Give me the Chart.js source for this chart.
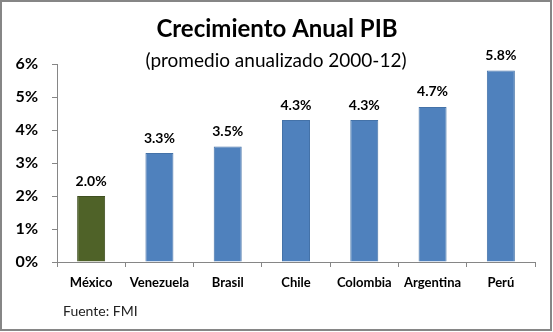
<!DOCTYPE html>
<html lang="es">
<head>
  <meta charset="UTF-8">
  <title>Crecimiento Anual PIB</title>
  <script src="https://cdn.jsdelivr.net/npm/chart.js"></script>
  <style>
    body { margin: 0; background: #fff; }
    #wrap { width: 553px; height: 332px; }
  </style>
</head>
<body>
  <div id="wrap"><canvas id="chartPib"></canvas></div>

  <script>
    const countries = ['México', 'Venezuela', 'Brasil', 'Chile', 'Colombia', 'Argentina', 'Perú'];
    const growth = [2.0, 3.3, 3.5, 4.3, 4.3, 4.7, 5.8];
    const yTicks = [0, 1, 2, 3, 4, 5, 6];

    const FONT = 'Lato, "Open Sans", sans-serif';
    const barColors = countries.map((c, i) => i === 0 ? '#4F6228' : '#4F81BD');
    const barBorders = countries.map((c, i) => i === 0 ? '#3F4F20' : '#4472A8');

    // title, subtitle, source note and frame drawn on the canvas
    const decorations = {
      id: 'decorations',
      afterDraw(chart) {
        const ctx = chart.ctx;
        ctx.save();
        ctx.fillStyle = '#000';
        ctx.textAlign = 'center';
        ctx.textBaseline = 'alphabetic';
        ctx.font = 'bold 24px ' + FONT;
        ctx.fillText('Crecimiento Anual PIB', 277, 37);
        ctx.font = '19px ' + FONT;
        ctx.fillText('(promedio anualizado 2000-12)', 276, 67);
        ctx.textAlign = 'left';
        ctx.font = '14px ' + FONT;
        ctx.fillStyle = '#222';
        ctx.fillText('Fuente: FMI', 63, 316);
        ctx.strokeStyle = '#868686';
        ctx.lineWidth = 2;
        ctx.strokeRect(1, 1, 550, 329);
        ctx.restore();
      }
    };

    // value labels above bars
    const valueLabels = {
      id: 'valueLabels',
      afterDatasetsDraw(chart) {
        const ctx = chart.ctx;
        const meta = chart.getDatasetMeta(0);
        ctx.save();
        ctx.font = 'bold 14px ' + FONT;
        ctx.fillStyle = '#000';
        ctx.textAlign = 'center';
        ctx.textBaseline = 'middle';
        meta.data.forEach((bar, i) => {
          ctx.fillText(growth[i].toFixed(1) + '%', bar.x, bar.y - 15);
        });
        ctx.restore();
      }
    };

    new Chart(document.getElementById('chartPib'), {
      type: 'bar',
      data: {
        labels: countries,
        datasets: [{
          data: growth,
          backgroundColor: barColors,
          borderColor: barBorders,
          borderWidth: 1,
          barPercentage: 0.41,
          categoryPercentage: 1
        }]
      },
      options: {
        responsive: true,
        maintainAspectRatio: false,
        animation: false,
        devicePixelRatio: 1,
        layout: { padding: { top: 64, right: 18, bottom: 0, left: 0 } },
        plugins: {
          legend: { display: false },
          title: { display: false },
          tooltip: { enabled: false }
        },
        scales: {
          x: {
            afterFit(scale) { scale.height = 70; },
            grid: { drawOnChartArea: false, tickLength: 5, color: '#868686' },
            border: { color: '#868686' },
            ticks: {
              padding: 8,
              color: '#000',
              font: { family: FONT, size: 13, weight: 'bold' }
            }
          },
          y: {
            min: 0,
            max: 6,
            afterFit(scale) { scale.width = 57; },
            afterBuildTicks(scale) { scale.ticks = yTicks.map(v => ({ value: v })); },
            grid: { drawOnChartArea: false, tickLength: 5, color: '#868686' },
            border: { color: '#868686' },
            ticks: {
              padding: 14,
              color: '#000',
              font: { family: FONT, size: 16, weight: 'bold' },
              callback: v => v + '%'
            }
          }
        }
      },
      plugins: [decorations, valueLabels]
    });
  </script>
</body>
</html>
